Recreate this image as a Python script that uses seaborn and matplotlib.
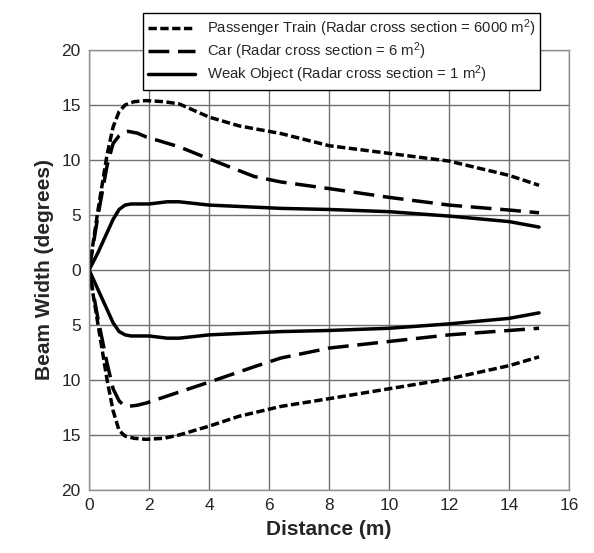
import matplotlib
matplotlib.use("Agg")
import matplotlib.pyplot as plt
import seaborn as sns

# distances (m) and beam widths (degrees)
x_train = [0, 0.3, 0.6, 0.8, 1.0, 1.2, 1.5, 1.9, 2.5, 3.0, 4.0, 5.0, 6.4, 8, 10, 12, 14, 15]
train_up = [0, 5.5, 10.5, 13.0, 14.4, 15.0, 15.3, 15.4, 15.3, 15.1, 13.9, 13.1, 12.4, 11.3, 10.6, 9.9, 8.6, 7.7]
train_lo = [0, -5.0, -10.0, -12.8, -14.6, -15.1, -15.3, -15.4, -15.3, -15.0, -14.2, -13.3, -12.4, -11.7, -10.8, -9.9, -8.7, -7.9]

x_car = [0, 0.3, 0.6, 0.8, 1.0, 1.15, 1.3, 1.6, 1.9, 3.0, 4.0, 5.5, 6.4, 8, 10, 12, 14, 15]
car_up = [0, 5.0, 9.5, 11.5, 12.2, 12.5, 12.6, 12.45, 12.1, 11.2, 10.1, 8.5, 8.0, 7.4, 6.6, 5.9, 5.45, 5.2]
car_lo = [0, -4.5, -8.5, -10.8, -11.9, -12.3, -12.4, -12.3, -12.1, -11.1, -10.2, -8.8, -8.0, -7.1, -6.5, -5.9, -5.5, -5.3]

x_weak = [0, 0.3, 0.5, 0.8, 1.0, 1.2, 1.4, 2.0, 2.6, 3.0, 4.0, 6.4, 8, 10, 12, 14, 15]
weak_up = [0, 1.6, 2.8, 4.6, 5.5, 5.9, 6.0, 6.0, 6.2, 6.2, 5.9, 5.6, 5.5, 5.3, 4.9, 4.4, 3.9]
weak_lo = [0, -1.8, -3.0, -4.8, -5.6, -5.9, -6.0, -6.0, -6.2, -6.2, -5.9, -5.6, -5.5, -5.3, -4.9, -4.4, -3.9]

labels = ["Passenger Train (Radar cross section = 6000 m$^2$)",
          "Car (Radar cross section = 6 m$^2$)",
          "Weak Object (Radar cross section = 1 m$^2$)"]
y_ticks = [-20, -15, -10, -5, 0, 5, 10, 15, 20]
x_ticks = [0, 2, 4, 6, 8, 10, 12, 14, 16]

sns.set_style("white")
plt.rcParams["font.family"] = ["Liberation Sans", "DejaVu Sans"]
plt.rcParams["mathtext.fontset"] = "custom"
plt.rcParams["mathtext.rm"] = "Liberation Sans"
plt.rcParams["mathtext.it"] = "Liberation Sans"

fig = plt.figure(figsize=(5.94, 5.53), dpi=100)
ax = fig.add_axes([0.15, 0.114, 0.808, 0.7956])

styles = [(x_train, train_up, train_lo, (2.4, 1.0)),
          (x_car, car_up, car_lo, (6.0, 2.5)),
          (x_weak, weak_up, weak_lo, None)]

for (xs, up, lo, dash), lab in zip(styles, labels):
    for ys, l in [(up, lab), (lo, None)]:
        sns.lineplot(x=xs, y=ys, ax=ax, color="black", linewidth=2.5,
                     label=l, legend=False)
        ln = ax.lines[-1]
        if dash is not None:
            ln.set_dashes(dash)
        ln.set_solid_capstyle("round")
        ln.set_solid_joinstyle("round")
        ln.set_dash_capstyle("butt")

ax.set_xlim(0, 16)
ax.set_ylim(-20, 20)
ax.set_xticks(x_ticks)
ax.set_yticks(y_ticks)
ax.set_xticklabels([str(v) for v in x_ticks], fontsize=12.5)
ax.set_yticklabels([str(abs(v)) for v in y_ticks], fontsize=12.5)
ax.tick_params(length=0, pad=6)
ax.grid(True, color="#707070", linewidth=1.0)
ax.set_axisbelow(True)
for s in ax.spines.values():
    s.set_color("#909090")
    s.set_linewidth(1.0)

ax.set_xlabel("Distance (m)", fontsize=15, fontweight="bold", labelpad=5)
ax.set_ylabel("Beam Width (degrees)", fontsize=15, fontweight="bold", labelpad=5)

handles = [ax.lines[0], ax.lines[2], ax.lines[4]]
leg = fig.legend(handles, labels, loc="upper center", bbox_to_anchor=(0.575, 0.99),
                 fontsize=10.75, fancybox=False, framealpha=1, edgecolor="black",
                 handlelength=3.15, handletextpad=0.8, borderpad=0.3, labelspacing=0.1)
leg.get_frame().set_linewidth(1.0)

fig.savefig("out.png", dpi=100)
